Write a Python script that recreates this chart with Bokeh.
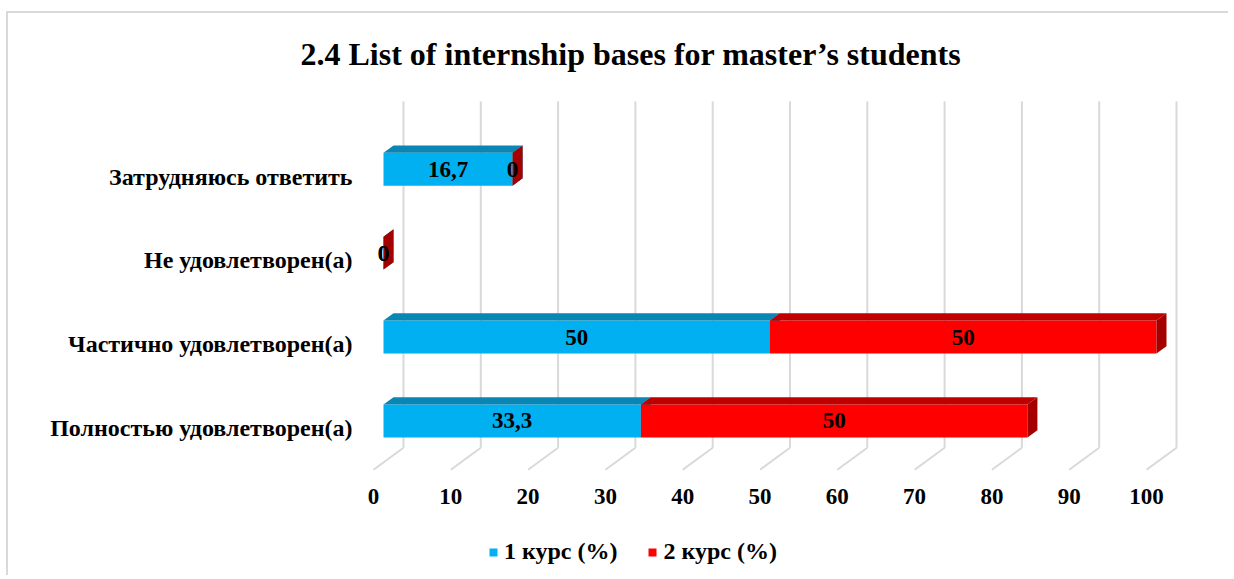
from bokeh.plotting import figure
from bokeh.models import (Range1d, FixedTicker, Legend, LegendItem)
from bokeh.core.properties import value
from bokeh.embed import file_html
from bokeh.resources import INLINE

# ---------------- data ----------------
categories = ["Полностью удовлетворен(а)", "Частично удовлетворен(а)",
              "Не удовлетворен(а)", "Затрудняюсь ответить"]
course1 = [33.3, 50, 0, 16.7]
course2 = [50, 50, 0, 0]
series_names = ["1 курс (%)", "2 курс (%)"]
x_ticks = [0, 10, 20, 30, 40, 50, 60, 70, 80, 90, 100]
title_text = "2.4 List of internship bases for master\u2019s students"

# ---------------- geometry (page px -> data) ----------------
OX, OY = 8, 13                  # canvas origin on the page
W, H = 1222, 564
PXU = 7.73                      # px per x unit
X0 = 373                        # page x of value 0 (front plane)
Y0 = 427.5                      # page y of first category (front plane)
PYU = 84.1                      # px per category step


def dx(px):
    return px / PXU


def xd(px_page):
    return (px_page - X0) / PXU


def yd(py_page):
    return (Y0 - py_page) / PYU


FL, FR, FT, FB = 365, OX + W, 90, OY + H   # frame in page px

FONT = "Liberation Serif"
D = dx(10)          # depth slice, x
DY = 7.33 / PYU     # depth slice, y
HH = 16.5 / PYU     # half bar height

p = figure(width=W, height=H, output_backend="svg", toolbar_location=None,
           x_range=Range1d(xd(FL), xd(FR)), y_range=Range1d(yd(FB), yd(FT)),
           x_axis_location=None,
           min_border_left=FL - OX, min_border_right=0,
           min_border_top=FT - OY, min_border_bottom=0,
           styles={"border-left": "2px solid #d9d9d9",
                   "border-top": "2px solid #d9d9d9",
                   "margin-top": "11px", "margin-left": "6px"})
p.outline_line_color = None
p.xgrid.visible = False
p.ygrid.visible = False
p.background_fill_color = "white"
p.border_fill_color = "white"

# ---------------- title ----------------
p.title.text = title_text
p.title.align = "left"
p.title.offset = 300 - FL
p.title.standoff = 40
p.title.text_font = FONT
p.title.text_font_style = "bold"
p.title.text_font_size = "32px"
p.title.text_color = "black"

# ---------------- 3D gridlines ----------------
y_front = yd(469)
y_back = y_front + 3 * DY
y_top = yd(100)
gx0, gy0, gx1, gy1 = [], [], [], []
for t in x_ticks:
    gx0.append(t); gy0.append(y_front); gx1.append(t + 3 * D); gy1.append(y_back)
    gx0.append(t + 3 * D); gy0.append(y_back); gx1.append(t + 3 * D); gy1.append(y_top)
p.segment(x0=gx0, y0=gy0, x1=gx1, y1=gy1, line_color="#d9d9d9", line_width=2)

# x tick labels on the front edge of the floor
p.text(x=x_ticks, y=[yd(496)] * len(x_ticks), text=[str(t) for t in x_ticks],
       text_align="center", text_baseline="middle", text_font=value(FONT),
       text_font_style="bold", text_font_size="23px", text_color="black")

# ---------------- 3D bars ----------------
colors = [("#00B0F0", "#0A86B4", "#0A7FAB"), ("#FF0000", "#BF0000", "#A50000")]
renderers = []
starts = [0.0] * len(categories)
label_x, label_y, label_t = [], [], []
for s_idx, vals in enumerate([course1, course2]):
    fx, fy, tx, ty, sx, sy = [], [], [], [], [], []
    for i, v in enumerate(vals):
        s = starts[i]
        e = s + v
        yc = i + DY
        fx.append([s + D, e + D, e + D, s + D])
        fy.append([yc - HH, yc - HH, yc + HH, yc + HH])
        tx.append([s + D, e + D, e + 2 * D, s + 2 * D])
        ty.append([yc + HH, yc + HH, yc + HH + DY, yc + HH + DY])
        sx.append([e + D, e + 2 * D, e + 2 * D, e + D])
        sy.append([yc - HH, yc - HH + DY, yc + HH + DY, yc + HH])
        label_x.append((s + e) / 2 + D)
        label_y.append(yc)
        label_t.append(("%g" % v).replace(".", ","))
        starts[i] = e
    front_c, top_c, side_c = colors[s_idx]
    r = p.patches(xs=fx, ys=fy, fill_color=front_c, line_color=None)
    p.patches(xs=tx, ys=ty, fill_color=top_c, line_color=None)
    p.patches(xs=sx, ys=sy, fill_color=side_c, line_color=None)
    renderers.append(r)

p.text(x=label_x, y=label_y, text=label_t, text_align="center",
       text_baseline="middle", text_font=value(FONT),
       text_font_style="bold", text_font_size="23px", text_color="black")

# ---------------- category axis ----------------
ax = p.yaxis[0]
ax.ticker = FixedTicker(ticks=list(range(len(categories))))
ax.major_label_overrides = {i: c for i, c in enumerate(categories)}
ax.axis_line_color = None
ax.major_tick_line_color = None
ax.minor_tick_line_color = None
ax.major_tick_out = 0
ax.major_tick_in = 0
ax.major_label_text_font = FONT
ax.major_label_text_font_style = "bold"
ax.major_label_text_color = "black"
ax.major_label_text_font_size = "24px"
ax.major_label_standoff = 13

# ---------------- legend ----------------
legend = Legend(items=[LegendItem(label=series_names[k], renderers=[renderers[k]])
                       for k in range(2)],
                orientation="horizontal", location=(488 - FL, FB - 565),
                glyph_width=10, glyph_height=10, label_standoff=6, spacing=30,
                padding=0, margin=0, border_line_color=None,
                background_fill_alpha=0, label_text_font=FONT,
                label_text_font_style="bold", label_text_font_size="24px",
                label_height=24, label_text_color="black")
p.add_layout(legend, "center")

open("out.html", "w").write(file_html(p, INLINE))
